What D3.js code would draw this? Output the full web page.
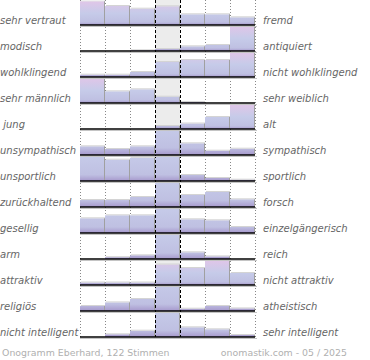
<!DOCTYPE html>
<html><head><meta charset="utf-8">
<script src="https://cdn.jsdelivr.net/npm/d3@7"></script>
<style>html,body{margin:0;padding:0;background:#fff;}svg{display:block;}</style>
</head><body>
<svg id="c" width="370" height="360"></svg>
<script>
const leftLabels = ["sehr vertraut","modisch","wohlklingend","sehr männlich"," jung","unsympathisch","unsportlich","zurückhaltend","gesellig","arm","attraktiv","religiös","nicht intelligent"];
const rightLabels = ["fremd","antiquiert","nicht wohlklingend","sehr weiblich","alt","sympathisch","sportlich","forsch","einzelgängerisch","reich","nicht attraktiv","atheistisch","sehr intelligent"];
const steps = [1,2,3,4,5,6,7];
const values = [
  [23.7, 19, 16.3, 18.7, 10.7, 10.7, 7.7],
  [0, 0, 0.7, 2, 4.7, 6, 25],
  [2.3, 2.3, 5, 15, 17, 17, 25],
  [25, 11.7, 13.7, 6.3, 1, 0, 0],
  [0, 0, 0, 3, 5.5, 12, 24.3],
  [8.7, 6, 8.7, 60, 11.7, 4.3, 6.3],
  [24, 21.3, 23.3, 52, 6, 3, 1.3],
  [7, 7, 10, 55, 12, 15, 7.7],
  [14.7, 17.7, 17.7, 50, 13.7, 12.7, 6],
  [0, 1.8, 3.7, 50, 6.7, 2.6, 0],
  [2.5, 2.5, 2.5, 20.5, 17, 24.5, 12],
  [5, 8.6, 12, 58, 2.3, 5, 2.6],
  [0, 2.7, 6.3, 55, 9.7, 7.7, 2]
];
const footerLeft = "Onogramm Eberhard, 122 Stimmen";
const footerRight = "onomastik.com - 05 / 2025";

const svg = d3.select("#c");
const x = d3.scaleBand().domain(steps).range([80, 255]).paddingInner(0).paddingOuter(0);
const rowY = d3.scaleBand().domain(d3.range(leftLabels.length)).range([-1, 337]);
const base = i => rowY(i) + rowY.bandwidth();
const h = d3.scaleLinear().domain([0, 25]).range([0, 25]);
const clipH = 24.5;
const bw = x.bandwidth();
const plotBottom = base(leftLabels.length - 1);

const defs = svg.append("defs");
leftLabels.forEach((_, i) => {
  const b = base(i);
  const mx = d3.max(values[i]);
  const g = defs.append("linearGradient").attr("id", "g" + i)
    .attr("gradientUnits", "userSpaceOnUse")
    .attr("x1", 0).attr("x2", 0).attr("y1", b - h(mx)).attr("y2", b);
  [[0, "#e0c6e8"], [0.5, "#c6cbe9"], [0.88, "#bfc0e2"], [1, "#a698cc"]].forEach(s =>
    g.append("stop").attr("offset", s[0]).attr("stop-color", s[1]));
  defs.append("clipPath").attr("id", "cp" + i).append("rect")
    .attr("x", 78).attr("y", b - clipH).attr("width", 182).attr("height", clipH + 1);
});

// middle column background
svg.append("rect").attr("x", x(4)).attr("y", 0).attr("width", bw).attr("height", plotBottom)
  .attr("fill", "#ececec");

// dotted grid lines
const dottedX = [x(1), x(2), x(3), x(6), x(7), x(7) + bw];
svg.append("g").selectAll("line").data(dottedX).join("line")
  .attr("x1", d => d + 0.5).attr("x2", d => d + 0.5).attr("y1", 0).attr("y2", plotBottom)
  .attr("stroke", "#888").attr("stroke-width", 1).attr("stroke-dasharray", "1,2");

// bars
leftLabels.forEach((_, i) => {
  const b = base(i);
  const g = svg.append("g").attr("clip-path", `url(#cp${i})`);
  const data = values[i].map((v, j) => ({ s: steps[j], v }));
  const nz = data.filter(d => d.v > 0);
  g.selectAll("rect.bar").data(nz).join("rect").attr("class", "bar")
    .attr("x", d => x(d.s)).attr("width", bw)
    .attr("y", d => b - h(d.v)).attr("height", d => h(d.v))
    .attr("fill", `url(#g${i})`);
  g.selectAll("line.top").data(nz).join("line").attr("class", "top")
    .attr("x1", d => x(d.s) + 1).attr("x2", d => x(d.s) + bw)
    .attr("y1", d => b - h(d.v) - 0.5).attr("y2", d => b - h(d.v) - 0.5)
    .attr("stroke", "#d4d4d4").attr("stroke-width", 1);
  g.selectAll("line.side").data(nz).join("line").attr("class", "side")
    .attr("x1", d => x(d.s) + bw - 0.5).attr("x2", d => x(d.s) + bw - 0.5)
    .attr("y1", d => b - h(d.v)).attr("y2", b)
    .attr("stroke", "#a0a0a0").attr("stroke-width", 1);
});

// dashed middle lines
svg.append("g").selectAll("line").data([x(4), x(5)]).join("line")
  .attr("x1", d => d + 0.5).attr("x2", d => d + 0.5).attr("y1", 0).attr("y2", plotBottom)
  .attr("stroke", "#000").attr("stroke-width", 1).attr("stroke-dasharray", "3,2");

// baselines
const bl = svg.append("g");
leftLabels.forEach((_, i) => {
  const b = base(i);
  bl.append("line").attr("x1", 80).attr("x2", 257).attr("y1", b + 1.5).attr("y2", b + 1.5)
    .attr("stroke", "#c4c4c4").attr("stroke-width", 1);
  bl.append("line").attr("x1", 80).attr("x2", 255).attr("y1", b).attr("y2", b)
    .attr("stroke", "#000").attr("stroke-width", 1.6);
});

// labels
const lab = svg.append("g").attr("font-family", "DejaVu Sans").attr("font-size", "10px")
  .attr("font-style", "italic").attr("fill", "#666");
lab.selectAll("text.l").data(leftLabels).join("text").attr("class", "l")
  .attr("x", 0).attr("y", (d, i) => base(i) - 1.3).style("white-space", "pre").text(d => d);
lab.selectAll("text.r").data(rightLabels).join("text").attr("class", "r")
  .attr("x", 263).attr("y", (d, i) => base(i) - 1.3).text(d => d);

// footer
const ft = svg.append("g").attr("font-family", "DejaVu Sans").attr("font-size", "9.4px").attr("fill", "#b0b0b0");
ft.append("text").attr("x", 2).attr("y", 356).text(footerLeft);
ft.append("text").attr("x", 347).attr("y", 356).attr("text-anchor", "end").text(footerRight);
</script>
</body></html>
